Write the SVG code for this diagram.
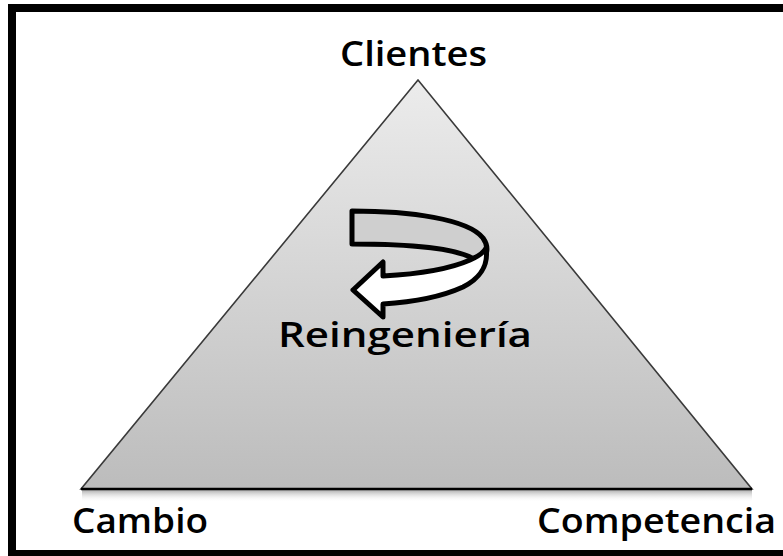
<svg xmlns="http://www.w3.org/2000/svg" width="783" height="556" viewBox="0 0 783 556">
  <defs>
    <linearGradient id="triGrad" x1="0" y1="80" x2="0" y2="489" gradientUnits="userSpaceOnUse">
      <stop offset="0" stop-color="#ececec"/>
      <stop offset="1" stop-color="#bcbcbc"/>
    </linearGradient>
    <linearGradient id="shadowGrad" x1="0" y1="0" x2="0" y2="1">
      <stop offset="0" stop-color="#9a9a9a" stop-opacity="0.8"/>
      <stop offset="1" stop-color="#ffffff" stop-opacity="0"/>
    </linearGradient>
    <style>
      .lbl { font-family: "Open Sans", "Liberation Sans", sans-serif; font-weight: 600; font-size: 35px; fill: #000; }
      .arrow { stroke: #000; stroke-width: 5; stroke-linejoin: round; }
    </style>
  </defs>
  <rect width="783" height="556" fill="#ffffff"/>
  <rect id="frame" x="12" y="8" width="800" height="546" fill="none" stroke="#000" stroke-width="8"/>

  <g id="triangle">
    <rect x="82" y="490" width="670" height="12" fill="url(#shadowGrad)"/>
    <polygon points="418,80 81,489 752,489" fill="url(#triGrad)" stroke="#3a3a3a" stroke-width="1.6" stroke-linejoin="miter"/>
    <line x1="81" y1="489" x2="752" y2="489" stroke="#000" stroke-width="2.6"/>
  </g>

  <g id="cycle-arrow">
    <path class="arrow" fill="#cfcfcf" d="M352,211 C410,211 468,219 483,238 C490,248 487,257 479,262 L472,258 C455,249 420,244 352,244 Z"/>
    <path class="arrow" fill="#ffffff" d="M486,248 C489,266 479,279 463,287 C441,297 415,302 383,304 L383,317 L353,290 L383,262 L383,276 C420,274 452,268 470,260 C479,256 484,252 486,248 Z"/>
  </g>

  <g id="labels">
    <text id="clientes" class="lbl" x="340" y="66" textLength="147" lengthAdjust="spacingAndGlyphs">Clientes</text>
    <text id="reingenieria" class="lbl" x="278" y="347" textLength="254" lengthAdjust="spacingAndGlyphs">Reingeniería</text>
    <text id="cambio" class="lbl" x="72" y="533" textLength="136" lengthAdjust="spacingAndGlyphs">Cambio</text>
    <text id="competencia" class="lbl" x="537" y="533" textLength="239" lengthAdjust="spacingAndGlyphs">Competencia</text>
  </g>
</svg>
